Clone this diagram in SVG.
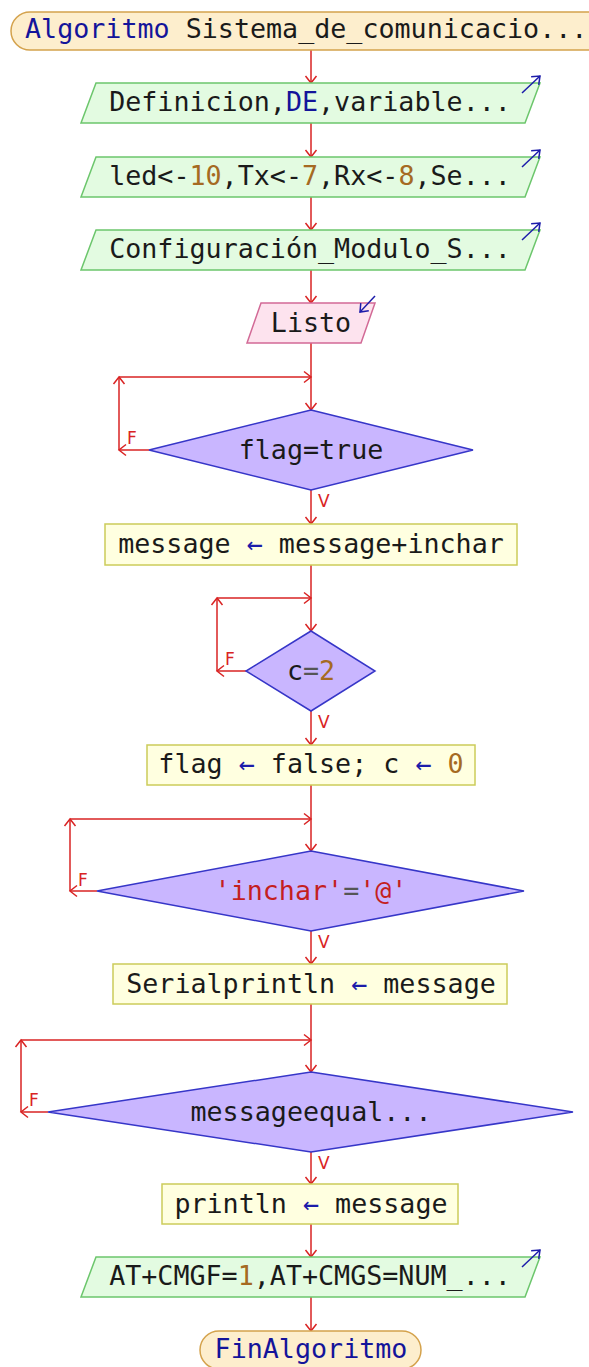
<svg xmlns="http://www.w3.org/2000/svg" width="589" height="1367" viewBox="0 0 589 1367">
<defs>
<marker id="arr" markerUnits="userSpaceOnUse" markerWidth="12" markerHeight="14" viewBox="0 0 12 14" refX="9" refY="7" orient="auto">
<path d="M2,1.5 L9,7 L2,12.5" fill="none" stroke="#d92323" stroke-width="1.5"/>
</marker>
<marker id="barr" markerUnits="userSpaceOnUse" markerWidth="12" markerHeight="14" viewBox="0 0 12 14" refX="9" refY="7" orient="auto">
<path d="M2,1.5 L9,7 L2,12.5" fill="none" stroke="#1c1caa" stroke-width="1.5"/>
</marker>
</defs>
<style>
text{font-family:"DejaVu Sans Mono","Liberation Mono",monospace;font-size:26.7px;fill:#1a1a1a}
.term{fill:#fdeecd;stroke:#d4a24c;stroke-width:1.5}
.io{fill:#e3fbe1;stroke:#6cc66c;stroke-width:1.5}
.in{fill:#fde3ee;stroke:#d26a96;stroke-width:1.5}
.proc{fill:#ffffe0;stroke:#cccc5a;stroke-width:1.5}
.dec{fill:#c9b6ff;stroke:#3636c8;stroke-width:1.5}
.con{fill:none;stroke:#d92323;stroke-width:1.5;marker-end:url(#arr)}
.icon{fill:none;stroke:#1c1caa;stroke-width:1.5;marker-end:url(#barr)}
.kw{fill:#14149a}
.num{fill:#a56a22}
.op{fill:#1c1caa}
.str{fill:#c41f1f}
.gr{fill:#555}
.lbl{font-family:"DejaVu Sans","Liberation Sans",sans-serif;font-size:17px;fill:#d92323}
</style>
<g id="connectors">
<line class="con" x1="311" y1="50" x2="311" y2="83"/>
<line class="con" x1="311" y1="123" x2="311" y2="157"/>
<line class="con" x1="311" y1="197" x2="311" y2="230"/>
<line class="con" x1="311" y1="270" x2="311" y2="303"/>
<line class="con" x1="311" y1="343" x2="311" y2="410"/>
<line class="con" x1="149" y1="450" x2="119" y2="450"/>
<line class="con" x1="119" y1="450" x2="119" y2="377"/>
<line class="con" x1="119" y1="377" x2="311" y2="377"/>
<line class="con" x1="311" y1="490" x2="311" y2="524"/>
<line class="con" x1="311" y1="565" x2="311" y2="631"/>
<line class="con" x1="246" y1="671" x2="217" y2="671"/>
<line class="con" x1="217" y1="671" x2="217" y2="598"/>
<line class="con" x1="217" y1="598" x2="311" y2="598"/>
<line class="con" x1="311" y1="711" x2="311" y2="745"/>
<line class="con" x1="311" y1="785" x2="311" y2="851"/>
<line class="con" x1="97" y1="891" x2="70" y2="891"/>
<line class="con" x1="70" y1="891" x2="70" y2="819"/>
<line class="con" x1="70" y1="819" x2="311" y2="819"/>
<line class="con" x1="311" y1="931" x2="311" y2="964"/>
<line class="con" x1="311" y1="1004" x2="311" y2="1072"/>
<line class="con" x1="48" y1="1112" x2="21" y2="1112"/>
<line class="con" x1="21" y1="1112" x2="21" y2="1040"/>
<line class="con" x1="21" y1="1040" x2="311" y2="1040"/>
<line class="con" x1="311" y1="1152" x2="311" y2="1184"/>
<line class="con" x1="311" y1="1224" x2="311" y2="1257"/>
<line class="con" x1="311" y1="1297" x2="311" y2="1331"/>
<text class="lbl" x="127" y="444">F</text>
<text class="lbl" x="318" y="507">V</text>
<text class="lbl" x="225" y="665">F</text>
<text class="lbl" x="318" y="728">V</text>
<text class="lbl" x="78" y="886">F</text>
<text class="lbl" x="318" y="948">V</text>
<text class="lbl" x="29" y="1106">F</text>
<text class="lbl" x="318" y="1169">V</text>
</g>
<g id="start">
<rect class="term" x="11" y="12" width="600" height="38" rx="19"/>
<text x="25" y="38"><tspan class="kw">Algoritmo</tspan> Sistema_de_comunicacio...</text>
</g>
<g id="def">
<polygon class="io" points="96,83 540,83 525,123 81,123"/>
<line class="icon" x1="522" y1="93" x2="540" y2="76"/>
<text x="310" y="111" text-anchor="middle">Definicion,<tspan class="kw">DE</tspan>,variable...</text>
</g>
<g id="vars">
<polygon class="io" points="96,157 540,157 525,197 81,197"/>
<line class="icon" x1="522" y1="167" x2="540" y2="150"/>
<text x="310" y="185" text-anchor="middle">led&lt;-<tspan class="num">10</tspan>,Tx&lt;-<tspan class="num">7</tspan>,Rx&lt;-<tspan class="num">8</tspan>,Se...</text>
</g>
<g id="config">
<polygon class="io" points="96,230 540,230 525,270 81,270"/>
<line class="icon" x1="522" y1="240" x2="540" y2="223"/>
<text x="310" y="258" text-anchor="middle">Configuración_Modulo_S...</text>
</g>
<g id="listo">
<polygon class="in" points="261,303 375,303 361,343 247,343"/>
<line class="icon" x1="375" y1="296" x2="360" y2="312"/>
<text x="311" y="332" text-anchor="middle">Listo</text>
</g>
<g id="dec1">
<polygon class="dec" points="311,410 473,450 311,490 149,450"/>
<text x="311" y="459" text-anchor="middle">flag=true</text>
</g>
<g id="proc1">
<rect class="proc" x="105" y="524" width="412" height="41"/>
<text x="311" y="553" text-anchor="middle">message <tspan class="op">←</tspan> message+inchar</text>
</g>
<g id="dec2">
<polygon class="dec" points="311,631 375,671 311,711 246,671"/>
<text x="311" y="680" text-anchor="middle">c<tspan class="gr">=</tspan><tspan class="num">2</tspan></text>
</g>
<g id="proc2">
<rect class="proc" x="147" y="745" width="328" height="40"/>
<text x="311" y="773" text-anchor="middle">flag <tspan class="op">←</tspan> false; c <tspan class="op">←</tspan> <tspan class="num">0</tspan></text>
</g>
<g id="dec3">
<polygon class="dec" points="311,851 524,891 311,931 97,891"/>
<text x="311" y="900" text-anchor="middle"><tspan class="str">'inchar'</tspan><tspan class="gr">=</tspan><tspan class="str">'@'</tspan></text>
</g>
<g id="proc3">
<rect class="proc" x="113" y="964" width="394" height="40"/>
<text x="311" y="993" text-anchor="middle">Serialprintln <tspan class="op">←</tspan> message</text>
</g>
<g id="dec4">
<polygon class="dec" points="311,1072 573,1112 311,1152 48,1112"/>
<text x="311" y="1121" text-anchor="middle">messageequal...</text>
</g>
<g id="proc4">
<rect class="proc" x="162" y="1184" width="296" height="40"/>
<text x="311" y="1213" text-anchor="middle">println <tspan class="op">←</tspan> message</text>
</g>
<g id="send">
<polygon class="io" points="96,1257 540,1257 525,1297 81,1297"/>
<line class="icon" x1="522" y1="1267" x2="540" y2="1250"/>
<text x="310" y="1285" text-anchor="middle">AT+CMGF=<tspan class="num">1</tspan>,AT+CMGS=NUM_...</text>
</g>
<g id="end">
<rect class="term" x="200" y="1331" width="221" height="38" rx="19"/>
<text x="311" y="1358" text-anchor="middle" class="kw">FinAlgoritmo</text>
</g>
</svg>
